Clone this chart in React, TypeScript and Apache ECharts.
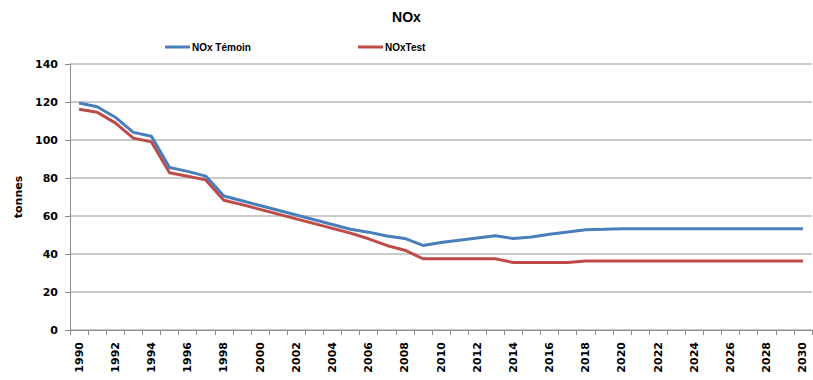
import React, { useEffect, useRef } from "react";
import * as echarts from "echarts";

const years: string[] = [];
for (let y = 1990; y <= 2030; y++) years.push(String(y));

const temoin = [
  119.5, 117.5, 112, 104, 102, 85.5, 83.5, 81, 70.5, 68,
  65.5, 63, 60.5, 58, 55.5, 53, 51.5, 49.5, 48.2, 44.5,
  46, 47.2, 48.4, 49.6, 48.1, 49, 50.4, 51.6, 52.8, 53,
  53.3, 53.3, 53.3, 53.3, 53.3, 53.3, 53.3, 53.3, 53.3, 53.3, 53.3,
];
const test = [
  116.2, 114.6, 109, 101, 99, 82.8, 80.9, 79, 68.3, 66,
  63.5, 61, 58.5, 56, 53.5, 51, 48, 44.5, 42, 37.5,
  37.5, 37.5, 37.5, 37.5, 35.5, 35.5, 35.5, 35.5, 36.3, 36.3,
  36.3, 36.3, 36.3, 36.3, 36.3, 36.3, 36.3, 36.3, 36.3, 36.3, 36.3,
];

const seriesNames = ["NOx Témoin", "NOxTest"];
const colors = ["#4A7EBB", "#BE4B48"];

const narrow = "'Liberation Sans Narrow', 'Arial Narrow', 'Liberation Sans', Arial, sans-serif";
const wide = "'DejaVu Sans', Verdana, sans-serif";

export default function App() {
  const ref = useRef<HTMLDivElement>(null);
  useEffect(() => {
    document.body.style.margin = "0";
    const chart = echarts.init(ref.current!, null, { renderer: "svg" });
    const legendText = {
      fontFamily: narrow,
      fontWeight: "bold",
      fontSize: 10,
      color: "#000",
      padding: [0, 0, 0, -3],
    };
    chart.setOption({
      animation: false,
      backgroundColor: "#ffffff",
      title: {
        text: "NOx",
        left: "center",
        top: 5,
        textStyle: { fontFamily: narrow, fontWeight: "bold", fontSize: 14, color: "#000" },
      },
      legend: [
        {
          data: [seriesNames[0]],
          left: 160,
          top: 37,
          icon: "rect",
          itemWidth: 25,
          itemHeight: 3,
          textStyle: legendText,
        },
        {
          data: [seriesNames[1]],
          left: 353,
          top: 37,
          icon: "rect",
          itemWidth: 25,
          itemHeight: 3,
          textStyle: legendText,
        },
      ],
      grid: {
        left: 70,
        width: 742,
        top: 64,
        bottom: 50,
        containLabel: false,
        outerBoundsMode: "none",
      },
      xAxis: {
        type: "category",
        data: years,
        boundaryGap: true,
        axisLine: { show: true, lineStyle: { color: "#8c8c8c", width: 1 } },
        axisTick: { show: true, interval: 0, length: 5, lineStyle: { color: "#8c8c8c" } },
        axisLabel: {
          interval: 1,
          rotate: 90,
          margin: 12,
          fontFamily: wide,
          fontWeight: "bold",
          fontSize: 11,
          color: "#000",
        },
        splitLine: { show: false },
      },
      yAxis: {
        type: "value",
        min: 0,
        max: 140,
        interval: 20,
        name: "tonnes",
        nameLocation: "middle",
        nameRotate: 90,
        nameGap: 46,
        nameTextStyle: { fontFamily: wide, fontWeight: "bold", fontSize: 11, color: "#000" },
        axisLine: { show: true, lineStyle: { color: "#8c8c8c", width: 1 } },
        axisTick: { show: true, length: 5, lineStyle: { color: "#8c8c8c" } },
        axisLabel: { margin: 12, fontFamily: wide, fontWeight: "bold", fontSize: 11, color: "#000" },
        splitLine: { show: true, lineStyle: { color: "#b8b8b8", width: 1.5 } },
      },
      series: [
        {
          name: seriesNames[0],
          type: "line",
          data: temoin,
          symbol: "none",
          color: colors[0],
          lineStyle: { width: 3, color: colors[0] },
          z: 3,
        },
        {
          name: seriesNames[1],
          type: "line",
          data: test,
          symbol: "none",
          color: colors[1],
          lineStyle: { width: 3, color: colors[1] },
          z: 2,
        },
      ],
    });
    return () => chart.dispose();
  }, []);
  return <div ref={ref} style={{ width: 813, height: 380 }} />;
}
